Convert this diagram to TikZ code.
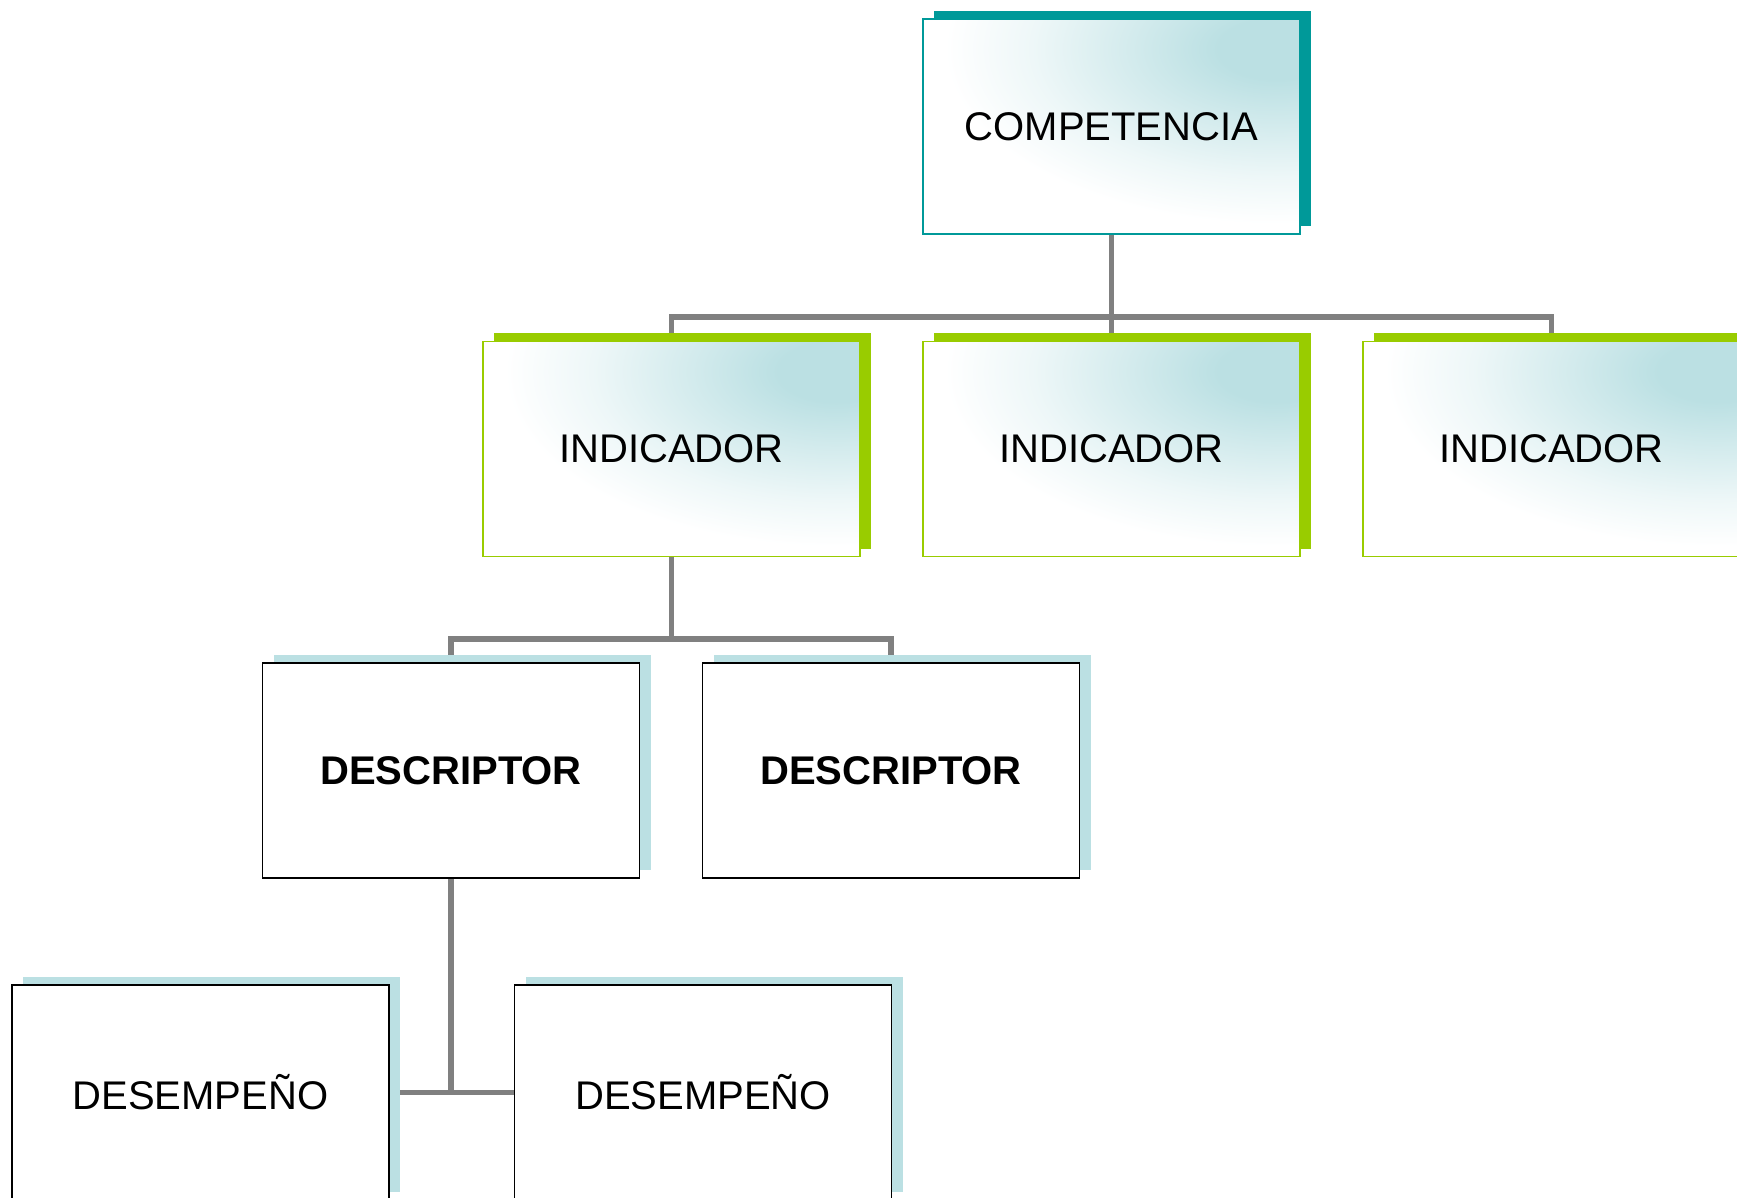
\documentclass[tikz,border=0pt]{standalone}
\usepackage{fontspec}
\setmainfont{Liberation Sans}
\usetikzlibrary{shadows,backgrounds}
\definecolor{tealdark}{RGB}{0,153,153}
\definecolor{limegreen}{RGB}{153,204,0}
\definecolor{paleblue}{RGB}{187,224,227}
\definecolor{linegray}{RGB}{128,128,128}
\pgfdeclareradialshading{softglow}{\pgfpoint{0bp}{0bp}}{%
    color(0bp)=(paleblue); color(4bp)=(paleblue);
    color(10bp)=(paleblue!65!white); color(17bp)=(paleblue!25!white);
    color(23bp)=(white); color(50bp)=(white)}
\begin{document}
\begin{tikzpicture}[x=0.5pt,y=-0.5pt,
    box/.style={rectangle, minimum width=188.5pt, minimum height=107.5pt,
      inner sep=0pt, line width=0.9pt, fill=white,
      font=\fontsize{20}{24}\selectfont,
      drop shadow={shadow xshift=5.5pt, shadow yshift=4pt, opacity=1, fill=#1}},
    gradbox/.style={path picture={
      \shade[shading=softglow]
        ([xshift=-12pt,yshift=-15pt]path picture bounding box.north east)
        ellipse (180pt and 95pt);}},
    compbox/.style={box=tealdark, draw=tealdark, gradbox},
    indbox/.style={box=limegreen, draw=limegreen, gradbox},
    descbox/.style={box=paleblue, draw=black,
      font=\fontsize{20}{24}\selectfont\bfseries},
    perfbox/.style={box=paleblue, draw=black},
    conn/.style={draw=linegray, line width=2.6pt, line join=miter}]
    \path[use as bounding box] (0,0) rectangle (1737,1198);
    \clip (0,0) rectangle (1737,1198);
    % top level
    \node [compbox] (comp) at (1111.5,126.5) {COMPETENCIA};
    % indicators
    \node [indbox] (ind1) at (671.5,449) {INDICADOR};
    \node [indbox] (ind2) at (1111.5,449) {INDICADOR};
    \node [indbox] (ind3) at (1551.5,449) {INDICADOR};
    % descriptors
    \node [descbox] (desc1) at (451,770.5) {DESCRIPTOR};
    \node [descbox] (desc2) at (891,770.5) {DESCRIPTOR};
    % desempenos
    \node [perfbox] (perf1) at (200.5,1092.5) {DESEMPEÑO};
    \node [perfbox] (perf2) at (703,1092.5) {DESEMPEÑO};
    \coordinate (busa) at (1111.5,317);
    \coordinate (busb) at (671.5,639);
    \begin{scope}[on background layer]
        \draw [conn] (comp.south) -- (busa);
        \draw [conn] (ind1.north) |- (busa) -| (ind3.north);
        \draw [conn] (busa) -- (ind2.north);
        \draw [conn] (ind1.south) -- (busb);
        \draw [conn] (desc1.north) |- (busb) -| (desc2.north);
        \draw [conn] (desc1.south) -- (desc1.south |- perf1.east);
        \draw [conn] (perf1.east) -- (perf2.west);
    \end{scope}
\end{tikzpicture}
\end{document}
